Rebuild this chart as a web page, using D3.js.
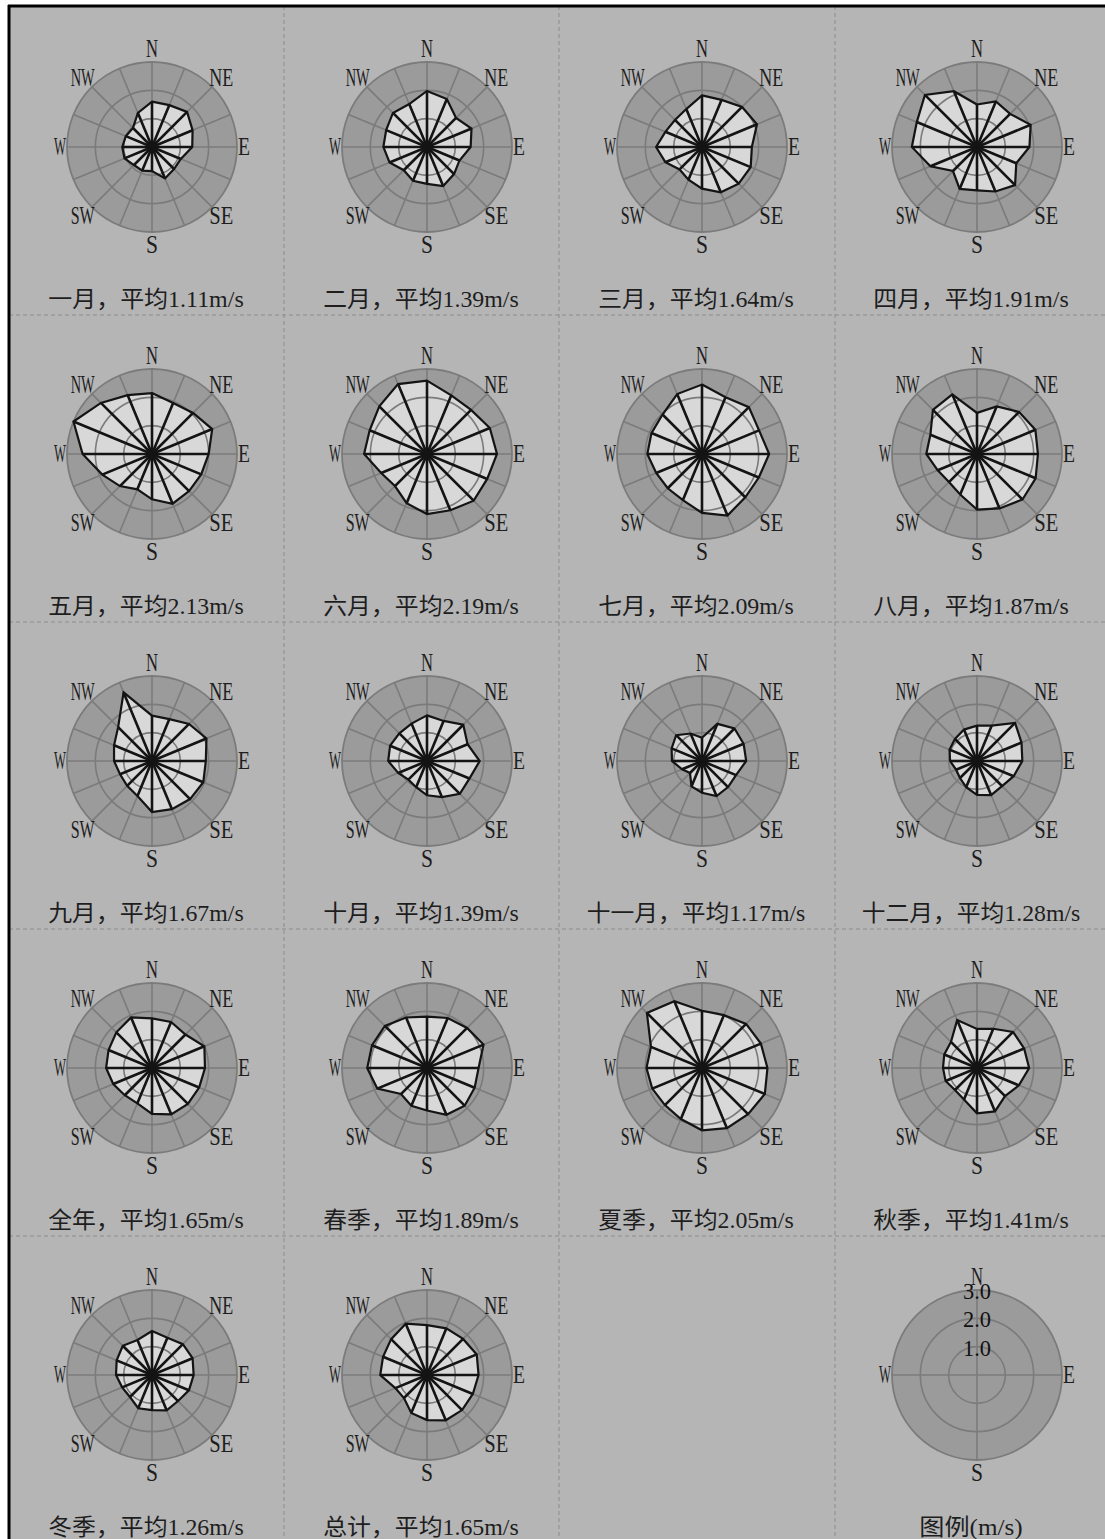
<!DOCTYPE html>
<html lang="zh">
<head>
    <meta charset="utf-8">
    <title>风玫瑰图</title>
    <script src="https://d3js.org/d3.v7.min.js"></script>
    <style>
        body { margin: 0; background: #fff; }
    </style>
</head>
<body>
<div id="chart"></div>
<script>
    // 16 wind directions, clockwise from north
    const directions = ["N", "NNE", "NE", "ENE", "E", "ESE", "SE", "SSE",
        "S", "SSW", "SW", "WSW", "W", "WNW", "NW", "NNW"];
    const labelDirs = ["N", "NE", "E", "SE", "S", "SW", "W", "NW"];
    const legendDirs = ["N", "E", "S", "W"];
    const legendRings = [1.0, 2.0, 3.0];

    const titles = ["一月", "二月", "三月", "四月", "五月", "六月", "七月", "八月",
        "九月", "十月", "十一月", "十二月", "全年", "春季", "夏季", "秋季", "冬季", "总计"];
    const means = [1.11, 1.39, 1.64, 1.91, 2.13, 2.19, 2.09, 1.87,
        1.67, 1.39, 1.17, 1.28, 1.65, 1.89, 2.05, 1.41, 1.26, 1.65];

    // mean wind speed per direction (m/s)
    const speedJan = [1.6, 1.6, 1.75, 1.55, 1.42, 1.1, 1.1, 1.2, 0.85, 0.9, 0.9, 1.05, 1.05, 1.0, 0.95, 1.3];
    const speedFeb = [1.98, 1.83, 1.45, 1.7, 1.54, 1.24, 1.35, 1.49, 1.3, 1.29, 1.16, 1.43, 1.54, 1.56, 1.7, 1.64];
    const speedMar = [1.82, 1.8, 2.0, 2.1, 1.76, 1.86, 1.83, 1.73, 1.47, 1.25, 1.12, 1.4, 1.62, 1.4, 1.35, 1.45];
    const speedApr = [1.5, 1.74, 1.65, 2.05, 1.85, 1.5, 1.9, 1.7, 1.53, 1.6, 1.2, 1.78, 2.3, 2.3, 2.6, 2.13];
    const speedMay = [2.15, 1.95, 2.05, 2.3, 2.0, 1.88, 1.85, 1.9, 1.6, 1.35, 1.6, 1.9, 2.45, 3.0, 2.55, 2.25];
    const speedJun = [2.59, 2.24, 2.2, 2.4, 2.47, 2.3, 2.33, 2.15, 2.12, 1.88, 1.6, 1.75, 2.22, 2.19, 2.38, 2.67];
    const speedJul = [2.45, 2.17, 2.34, 2.18, 2.37, 2.17, 2.16, 2.35, 2.08, 1.76, 1.71, 1.75, 1.93, 1.93, 1.97, 2.29];
    const speedAug = [1.45, 1.82, 2.1, 2.23, 2.15, 2.24, 2.27, 2.08, 1.96, 1.55, 1.4, 1.5, 1.79, 1.78, 2.2, 2.28];
    const speedSep = [1.6, 1.6, 1.85, 2.08, 1.9, 1.96, 1.9, 1.84, 1.8, 1.34, 1.24, 1.22, 1.34, 1.45, 1.69, 2.62];
    const speedOct = [1.61, 1.53, 1.81, 1.55, 1.86, 1.62, 1.64, 1.38, 1.21, 1.0, 0.93, 1.1, 1.37, 1.41, 1.38, 1.43];
    const speedNov = [0.82, 1.42, 1.62, 1.59, 1.56, 1.3, 1.3, 1.34, 1.12, 0.97, 0.6, 0.76, 1.06, 1.16, 1.29, 1.05];
    const speedDec = [1.25, 1.35, 1.9, 1.7, 1.6, 1.4, 1.25, 1.3, 1.2, 1.0, 0.85, 0.8, 0.95, 1.05, 1.1, 1.2];
    const speedYear = [1.75, 1.76, 1.67, 2.0, 1.87, 1.8, 1.79, 1.77, 1.62, 1.35, 1.36, 1.48, 1.62, 1.66, 1.78, 1.93];
    const speedSpring = [1.81, 1.91, 2.0, 2.16, 1.82, 1.82, 1.88, 1.79, 1.5, 1.44, 1.3, 1.9, 2.11, 2.1, 2.1, 1.93];
    const speedSummer = [2.02, 2.02, 2.2, 2.25, 2.31, 2.4, 2.3, 2.3, 2.2, 1.95, 1.85, 1.9, 1.96, 1.95, 2.75, 2.55];
    const speedAutumn = [1.38, 1.5, 1.8, 1.8, 1.84, 1.6, 1.4, 1.66, 1.6, 1.2, 1.1, 1.2, 1.2, 1.25, 1.3, 1.83];
    const speedWinter = [1.55, 1.42, 1.54, 1.55, 1.47, 1.41, 1.3, 1.35, 1.24, 1.27, 1.1, 1.14, 1.27, 1.35, 1.46, 1.34];
    const speedTotal = [1.76, 1.78, 1.8, 1.9, 1.82, 1.75, 1.75, 1.73, 1.59, 1.45, 1.15, 1.21, 1.65, 1.68, 1.79, 1.96];

    const roses = [speedJan, speedFeb, speedMar, speedApr, speedMay, speedJun, speedJul, speedAug,
        speedSep, speedOct, speedNov, speedDec, speedYear, speedSpring, speedSummer, speedAutumn,
        speedWinter, speedTotal];

    const width = 1105, height = 1539;
    const colStep = 275, rowStep = 307;
    const bg = "#b5b5b5", disc = "#9b9b9b", grid = "#7b7b7b", fill = "#d8d8d8", ink = "#141414";
    const latin = "'Liberation Serif', 'Noto Sans CJK SC', serif";

    const svg = d3.select("#chart")
        .append("svg")
        .attr("width", width)
        .attr("height", height);

    // page background and frame
    svg.append("rect")
        .attr("x", 9).attr("y", 6)
        .attr("width", width - 9).attr("height", height - 6)
        .attr("fill", bg);

    // dashed cell separators
    [284, 559, 835].forEach(x => {
        svg.append("line")
            .attr("x1", x).attr("x2", x).attr("y1", 6).attr("y2", height)
            .attr("stroke", "#8c8c8c").attr("stroke-dasharray", "4,3");
    });
    d3.range(4).forEach(i => {
        svg.append("line")
            .attr("x1", 9).attr("x2", width)
            .attr("y1", 315 + i * rowStep).attr("y2", 315 + i * rowStep)
            .attr("stroke", "#8c8c8c").attr("stroke-dasharray", "4,3");
    });

    svg.append("line").attr("x1", 8).attr("x2", width).attr("y1", 6).attr("y2", 6)
        .attr("stroke", "#000").attr("stroke-width", 3);
    svg.append("line").attr("x1", 9).attr("x2", 9).attr("y1", 5).attr("y2", height)
        .attr("stroke", "#000").attr("stroke-width", 3);

    // scales
    const r = d3.scaleLinear().domain([0, 3]).range([0, 85]);
    const a = d3.scaleBand().domain(directions).range([0, 2 * Math.PI]);

    const px = (dir, v) => r(v) * Math.sin(a(dir));
    const py = (dir, v) => -r(v) * Math.cos(a(dir));

    // text width in the reference: full-width glyphs 23px, half-width 11.5px
    const textWidth = (s, full, half) => Array.from(s)
        .reduce((w, c) => w + (c.charCodeAt(0) > 0x2e80 ? full : half), 0);

    function dirLabels(g, dirs) {
        g.selectAll("text.dir")
            .data(dirs)
            .join("text")
            .attr("class", "dir")
            .attr("x", d => Math.abs(Math.sin(a(d))) > 0.99 ? px(d, r.invert(92)) : px(d, r.invert(98)))
            .attr("y", d => py(d, r.invert(98)) + 8)
            .attr("text-anchor", "middle")
            .attr("font-family", latin)
            .attr("font-size", 25)
            .attr("fill", "#1e1e1e")
            .attr("textLength", d => d.length * 12)
            .attr("lengthAdjust", "spacingAndGlyphs")
            .text(d => d);
    }

    function caption(x, y, s) {
        svg.append("text")
            .attr("x", x).attr("y", y + 8)
            .attr("text-anchor", "middle")
            .attr("font-family", latin)
            .attr("font-size", 23)
            .attr("fill", "#1e1e1e")
            .attr("textLength", textWidth(s, 23, 11.5))
            .attr("lengthAdjust", "spacingAndGlyphs")
            .text(s);
    }

    const radialLine = d3.lineRadial()
        .angle((d, i) => a(directions[i]))
        .radius(d => r(d))
        .curve(d3.curveLinearClosed);

    roses.forEach((vals, k) => {
        const col = k % 4, row = Math.floor(k / 4);
        const cx = 152 + col * colStep, cy = 147 + row * rowStep;
        const g = svg.append("g").attr("transform", `translate(${cx},${cy})`);

        g.append("circle").attr("r", r(3))
            .attr("fill", disc).attr("stroke", grid).attr("stroke-width", 1.8);

        g.append("path").attr("d", radialLine(vals)).attr("fill", fill);

        g.selectAll("circle.ring")
            .data([1, 2])
            .join("circle")
            .attr("class", "ring")
            .attr("r", d => r(d))
            .attr("fill", "none").attr("stroke", grid).attr("stroke-width", 1.6);

        g.selectAll("line.grid")
            .data(directions)
            .join("line")
            .attr("class", "grid")
            .attr("x2", d => px(d, 3)).attr("y2", d => py(d, 3))
            .attr("stroke", grid).attr("stroke-width", 1.6);

        g.selectAll("line.spoke")
            .data(directions)
            .join("line")
            .attr("class", "spoke")
            .attr("x2", (d, i) => px(d, vals[i])).attr("y2", (d, i) => py(d, vals[i]))
            .attr("stroke", ink).attr("stroke-width", 2.6);

        g.append("path").attr("d", radialLine(vals))
            .attr("fill", "none").attr("stroke", ink).attr("stroke-width", 2.2)
            .attr("stroke-linejoin", "miter");

        dirLabels(g, labelDirs);

        caption(146 + col * colStep, 299 + row * rowStep, `${titles[k]}，平均${means[k].toFixed(2)}m/s`);
    });

    // legend
    const lx = 152 + 3 * colStep, ly = 147 + 4 * rowStep;
    const lg = svg.append("g").attr("transform", `translate(${lx},${ly})`);
    lg.append("circle").attr("r", r(3))
        .attr("fill", disc).attr("stroke", grid).attr("stroke-width", 1.8);
    lg.selectAll("circle.ring")
        .data(legendRings.slice(0, 2))
        .join("circle")
        .attr("class", "ring")
        .attr("r", d => r(d))
        .attr("fill", "none").attr("stroke", grid).attr("stroke-width", 1.6);
    lg.selectAll("line.grid")
        .data(legendDirs)
        .join("line")
        .attr("class", "grid")
        .attr("x2", d => px(d, 3)).attr("y2", d => py(d, 3))
        .attr("stroke", grid).attr("stroke-width", 1.6);
    dirLabels(lg, legendDirs);
    lg.selectAll("text.ring")
        .data(legendRings)
        .join("text")
        .attr("class", "ring")
        .attr("x", 0)
        .attr("y", d => -r(d) + 9)
        .attr("text-anchor", "middle")
        .attr("font-family", latin)
        .attr("font-size", 23)
        .attr("fill", "#111")
        .attr("textLength", 28)
        .attr("lengthAdjust", "spacingAndGlyphs")
        .text(d => d.toFixed(1));
    caption(146 + 3 * colStep, 299 + 4 * rowStep, "图例(m/s)");
</script>
</body>
</html>
